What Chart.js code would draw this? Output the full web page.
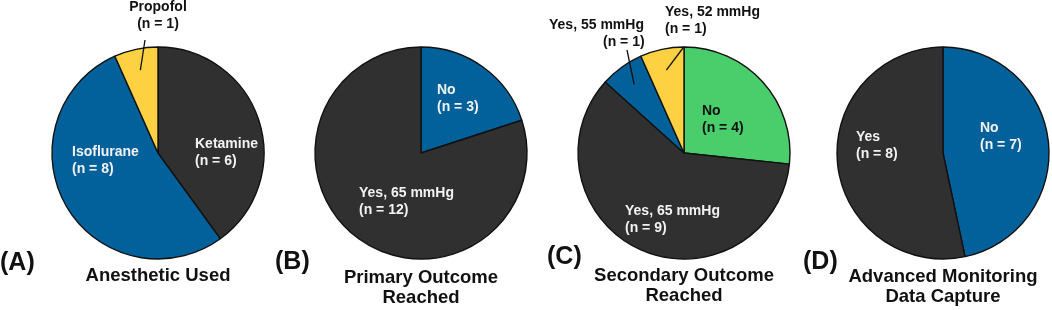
<!DOCTYPE html>
<html lang="en">
<head>
<meta charset="UTF-8">
<title>Pie charts</title>
<script src="https://cdn.jsdelivr.net/npm/chart.js"></script>
<style>
  body { margin: 0; background: #fff; }
  #wrap { position: relative; width: 1052px; height: 310px; }
  #wrap canvas { position: absolute; left: 0; top: 0; }
</style>
</head>
<body>
<div id="wrap">
  <canvas id="pieA" width="1052" height="310"></canvas>
  <canvas id="pieB" width="1052" height="310"></canvas>
  <canvas id="pieC" width="1052" height="310"></canvas>
  <canvas id="pieD" width="1052" height="310"></canvas>
</div>
<script>
// data
const anestheticLabels = ['Ketamine', 'Isoflurane', 'Propofol'];
const anestheticCounts = [6, 8, 1];
const primaryLabels = ['No', 'Yes, 65 mmHg'];
const primaryCounts = [3, 12];
const secondaryLabels = ['No', 'Yes, 65 mmHg', 'Yes, 55 mmHg', 'Yes, 52 mmHg'];
const secondaryCounts = [4, 9, 1, 1];
const monitoringLabels = ['No', 'Yes'];
const monitoringCounts = [7, 8];
const panelTags = ['(A)', '(B)', '(C)', '(D)'];
const panelTitles = [['Anesthetic Used'], ['Primary Outcome', 'Reached'], ['Secondary Outcome', 'Reached'], ['Advanced Monitoring', 'Data Capture']];

// colours
const DARK = '#303030', BLUE = '#02619a', YELLOW = '#fdd141', GREEN = '#4acd6b';
const FONT = '"Liberation Sans", Arial, sans-serif';

// layout of each panel (pie centre, label anchors relative to centre)
const R = 106;
const panels = [
  { id: 'pieA', cx: 158, cy: 153, labels: anestheticLabels, data: anestheticCounts, colors: [DARK, BLUE, YELLOW],
    tag: [0, 263], titleY: 276,
    text: [
      { x: 37, y: -9, col: '#f2f2f2' },
      { x: -86, y: -1, col: '#f2f2f2' },
      { x: 0, y: -146, col: '#111', align: 'center', leader: [-13, -113] }
    ] },
  { id: 'pieB', cx: 421, cy: 153, labels: primaryLabels, data: primaryCounts, colors: [BLUE, DARK],
    tag: [275, 262], titleY: 278,
    text: [
      { x: 16, y: -63, col: '#f2f2f2' },
      { x: -62, y: 40, col: '#f2f2f2' }
    ] },
  { id: 'pieC', cx: 684, cy: 153, labels: secondaryLabels, data: secondaryCounts, colors: [GREEN, DARK, BLUE, YELLOW],
    tag: [547, 257], titleY: 276,
    text: [
      { x: 18, y: -42, col: '#111' },
      { x: -59, y: 58, col: '#f2f2f2' },
      { x: -135, y: -128, x2: -81, col: '#111', leader: [-57, -103] },
      { x: -19, y: -141, col: '#111', leader: [-1, -105] }
    ] },
  { id: 'pieD', cx: 943, cy: 153, labels: monitoringLabels, data: monitoringCounts, colors: [BLUE, DARK],
    tag: [803, 262], titleY: 277,
    text: [
      { x: 37, y: -25, col: '#f2f2f2' },
      { x: -87, y: -16, col: '#f2f2f2' }
    ] }
];

const annotate = {
  id: 'annotate',
  afterDraw(chart) {
    const p = chart.options.plugins.annotate.panel;
    const idx = chart.options.plugins.annotate.index;
    const ctx = chart.ctx;
    const arcs = chart.getDatasetMeta(0).data;
    ctx.save();
    ctx.textBaseline = 'middle';
    p.text.forEach((t, i) => {
      const arc = arcs[i];
      const cx = arc.x, cy = arc.y;
      if (t.leader) {
        const mid = (arc.startAngle + arc.endAngle) / 2;
        const rIn = arc.outerRadius * 0.8;
        ctx.beginPath();
        ctx.strokeStyle = '#111';
        ctx.lineWidth = 1.3;
        ctx.moveTo(cx + t.leader[0], cy + t.leader[1]);
        ctx.lineTo(cx + Math.cos(mid) * rIn, cy + Math.sin(mid) * rIn);
        ctx.stroke();
      }
      ctx.font = 'bold 14px ' + FONT;
      ctx.fillStyle = t.col;
      ctx.textAlign = t.align || 'left';
      ctx.fillText(p.labels[i], cx + t.x, cy + t.y);
      ctx.fillText('(n = ' + p.data[i] + ')', cx + (t.x2 !== undefined ? t.x2 : t.x), cy + t.y + 17);
    });
    // panel title
    ctx.fillStyle = '#111';
    ctx.textAlign = 'center';
    ctx.font = 'bold 18.5px ' + FONT;
    panelTitles[idx].forEach((line, k) => {
      ctx.fillText(line, p.cx, p.titleY + k * 20);
    });
    // panel tag
    ctx.textAlign = 'left';
    ctx.font = 'bold 25px ' + FONT;
    ctx.fillText(panelTags[idx], p.tag[0], p.tag[1]);
    ctx.restore();
  }
};

panels.forEach((p, i) => {
  const half = R + 0.7;
  new Chart(document.getElementById(p.id), {
    type: 'pie',
    data: {
      labels: p.labels,
      datasets: [{
        data: p.data,
        backgroundColor: p.colors,
        borderColor: '#111',
        borderWidth: 1.4,
        hoverOffset: 0
      }]
    },
    options: {
      responsive: false,
      animation: false,
      layout: {
        padding: { left: p.cx - half, right: 1052 - p.cx - half, top: p.cy - half, bottom: 310 - p.cy - half }
      },
      plugins: {
        legend: { display: false },
        tooltip: { enabled: false },
        annotate: { panel: p, index: i }
      }
    },
    plugins: [annotate]
  });
});
</script>
</body>
</html>
